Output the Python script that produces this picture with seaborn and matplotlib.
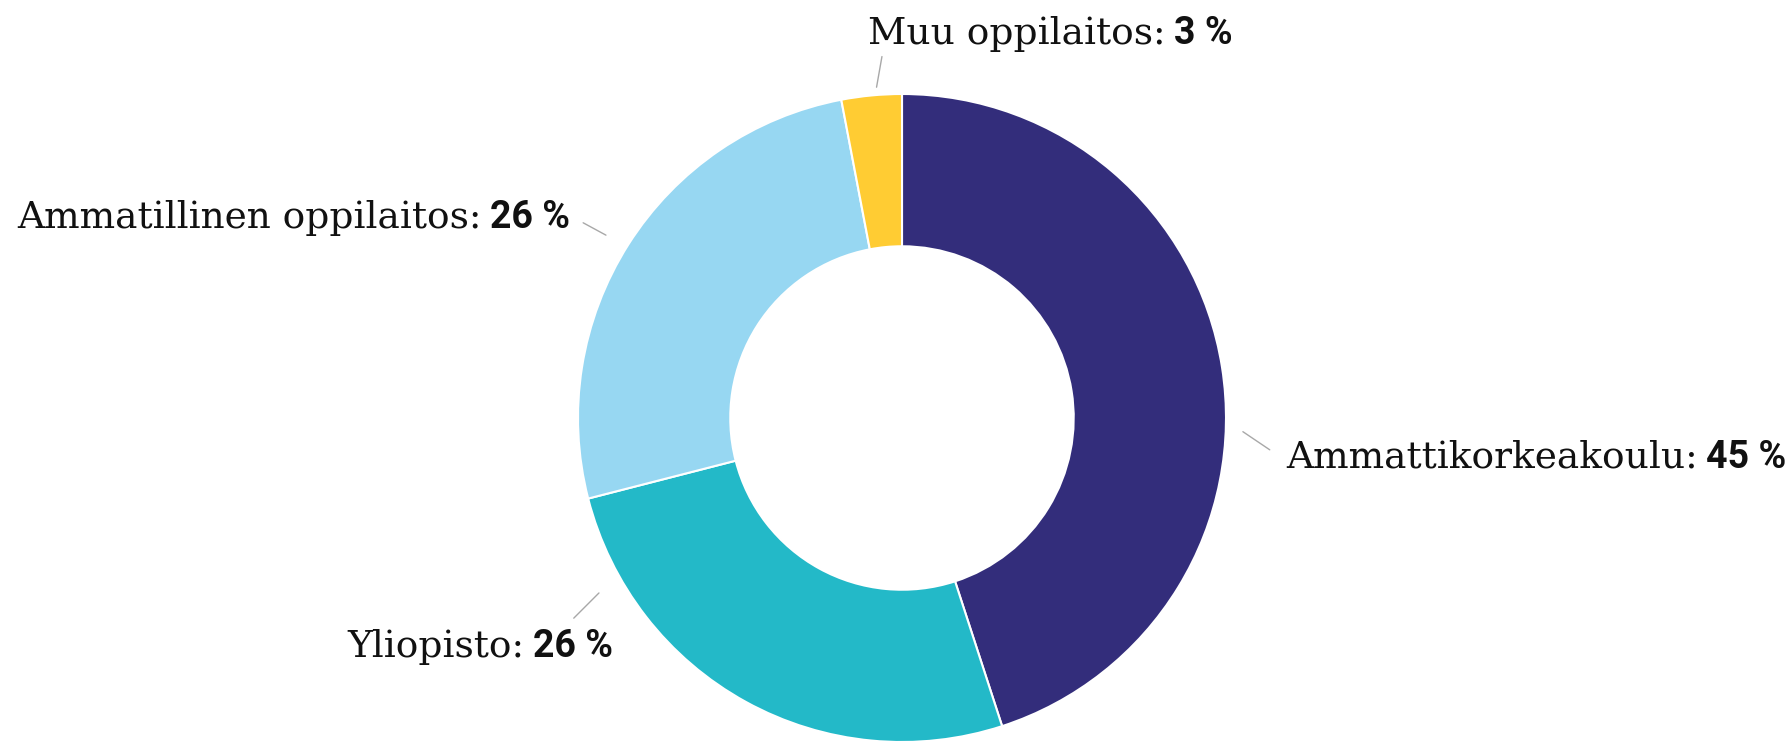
import numpy as np
import seaborn as sns
import matplotlib.pyplot as plt

sns.set_theme(style="white")

categories = ["Ammattikorkeakoulu", "Yliopisto", "Ammatillinen oppilaitos", "Muu oppilaitos"]
shares = [45, 26, 26, 3]
colors = ["#332d7b", "#23b9c8", "#97d7f2", "#ffcc33"]

# label layout (radius units): connector start nudge/radius, direction, length, text side and offset
label_shift = [-11.3, -31.2, 0.7, -1.0]
label_r0 = [1.053, 1.080, 1.074, 1.024]
label_dir = [-34, 225, 151.5, 80]
label_len = [0.10, 0.11, 0.08, 0.096]
label_side = ["left", "right", "right", "left"]
label_offset = [(0.051, -0.055), (0.122, -0.120), (-0.041, -0.017), (-0.042, 0.038)]

W, H = 1787, 748
cx, cy, R = 902, 418, 324

fig = plt.figure(figsize=(W / 100, H / 100), dpi=100)
ax = fig.add_axes([0, 0, 1, 1])

wedges, _ = ax.pie(shares, colors=colors, startangle=90, counterclock=False,
                   radius=1, wedgeprops=dict(width=0.47, edgecolor="white", linewidth=1.5))

ax.set_xlim(-cx / R, (W - cx) / R)
ax.set_ylim(-(H - cy) / R, cy / R)
ax.set_aspect("equal", adjustable="box")
ax.axis("off")

fs = 27
for i, w in enumerate(wedges):
    ang = np.deg2rad((w.theta1 + w.theta2) / 2 + label_shift[i])
    d = np.deg2rad(label_dir[i])
    x0, y0 = label_r0[i] * np.cos(ang), label_r0[i] * np.sin(ang)
    x1, y1 = x0 + label_len[i] * np.cos(d), y0 + label_len[i] * np.sin(d)
    ax.plot([x0, x1], [y0, y1], color="#a8a8a8", lw=1.0)
    tx, ty = x1 + label_offset[i][0], y1 + label_offset[i][1]
    name = categories[i] + ":"
    pct = f"{shares[i]} %"
    if label_side[i] == "left":
        t = ax.text(tx, ty, name, ha="left", va="baseline", fontsize=fs,
                    family="DejaVu Serif", color="#111111")
        ax.annotate(pct, xy=(1, ty), xycoords=(t, "data"), xytext=(6, 0),
                    textcoords="offset points", ha="left", va="baseline",
                    fontsize=fs, family="Roboto", fontweight="bold", color="#111111")
    else:
        t = ax.text(tx, ty, pct, ha="right", va="baseline", fontsize=fs,
                    family="Roboto", fontweight="bold", color="#111111")
        ax.annotate(name, xy=(0, ty), xycoords=(t, "data"), xytext=(-6, 0),
                    textcoords="offset points", ha="right", va="baseline",
                    fontsize=fs, family="DejaVu Serif", color="#111111")

fig.savefig("out.png", dpi=100, facecolor="white")
